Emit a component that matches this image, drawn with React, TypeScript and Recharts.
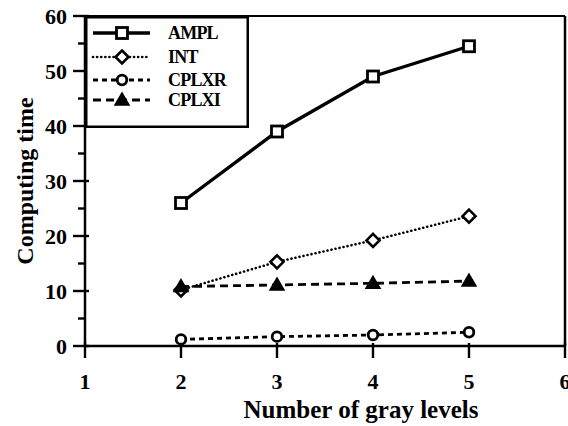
import React from 'react';
import { LineChart, Line, XAxis, YAxis, ReferenceLine, Legend } from 'recharts';

const categories = [2, 3, 4, 5];
const amplValues = [26, 39, 49, 54.5];
const intValues = [10.2, 15.3, 19.2, 23.6];
const cplxrValues = [1.2, 1.7, 2.0, 2.5];
const cplxiValues = [10.8, 11.1, 11.4, 11.8];
const xTicks = [1, 2, 3, 4, 5, 6];
const yTicks = [0, 5, 10, 15, 20, 25, 30, 35, 40, 45, 50, 55, 60];

const data = categories.map((c, i) => ({
  x: c,
  AMPL: amplValues[i],
  INT: intValues[i],
  CPLXR: cplxrValues[i],
  CPLXI: cplxiValues[i],
}));

const FONT = '"Liberation Serif", "Times New Roman", serif';

const SquareDot = (props: any) => {
  const { cx, cy } = props;
  if (cx == null || cy == null) return null;
  return <rect x={cx - 5.5} y={cy - 5.5} width={11} height={11} fill="#fff" stroke="#000" strokeWidth={2.8} />;
};
const DiamondDot = (props: any) => {
  const { cx, cy } = props;
  if (cx == null || cy == null) return null;
  return <path d={`M${cx},${cy - 6.5} L${cx + 6.5},${cy} L${cx},${cy + 6.5} L${cx - 6.5},${cy} Z`} fill="#fff" stroke="#000" strokeWidth={2.6} />;
};
const CircleDot = (props: any) => {
  const { cx, cy } = props;
  if (cx == null || cy == null) return null;
  return <circle cx={cx} cy={cy} r={4.8} fill="#fff" stroke="#000" strokeWidth={2.8} />;
};
const TriangleDot = (props: any) => {
  const { cx, cy } = props;
  if (cx == null || cy == null) return null;
  return <path d={`M${cx},${cy - 7} L${cx + 7},${cy + 5} L${cx - 7},${cy + 5} Z`} fill="#000" stroke="#000" strokeWidth={1.5} />;
};

const series = [
  { key: 'AMPL', dash: undefined as string | undefined, width: 3.4, Dot: SquareDot, cap: 'butt' },
  { key: 'INT', dash: '0.1 4', width: 2.6, Dot: DiamondDot, cap: 'round' },
  { key: 'CPLXR', dash: '5 4', width: 2.8, Dot: CircleDot, cap: 'butt' },
  { key: 'CPLXI', dash: '8 5', width: 2.8, Dot: TriangleDot, cap: 'butt' },
];

const YTick = (props: any) => {
  const { x, y, payload } = props;
  const major = payload.value % 10 === 0;
  return (
    <g>
      {major ? (
        <line x1={x - 12} x2={x + 4} y1={y} y2={y} stroke="#000" strokeWidth={2.4} />
      ) : (
        <line x1={x - 7} x2={x} y1={y} y2={y} stroke="#000" strokeWidth={2.4} />
      )}
      {major && (
        <text x={x - 18} y={y} textAnchor="end" dominantBaseline="central" fontFamily={FONT} fontSize={22} fontWeight="bold" fill="#000">
          {payload.value}
        </text>
      )}
    </g>
  );
};

const XTick = (props: any) => {
  const { x, y, payload } = props;
  return (
    <g>
      <line x1={x} x2={x} y1={y - 3} y2={y + 12} stroke="#000" strokeWidth={2.4} />
      <text x={x} y={y + 43} textAnchor="middle" fontFamily={FONT} fontSize={22} fontWeight="bold" fill="#000">
        {payload.value}
      </text>
    </g>
  );
};

const LegendContent = () => {
  const rows = [
    { s: series[0], y: 17 },
    { s: series[1], y: 41 },
    { s: series[2], y: 64 },
    { s: series[3], y: 84 },
  ];
  return (
    <svg width={164} height={112} style={{ display: 'block' }}>
      <rect x={1.25} y={1.25} width={161.5} height={109.5} fill="#fff" stroke="#000" strokeWidth={2.5} />
      {rows.map(({ s, y }) => {
        const D = s.Dot;
        return (
          <g key={s.key}>
            <line x1={8} x2={65} y1={y} y2={y} stroke="#000" strokeWidth={s.width} strokeDasharray={s.dash} strokeLinecap={s.cap as any} />
            <D cx={37} cy={y} />
            <text x={83} y={y} dominantBaseline="central" fontFamily={FONT} fontSize={18} fontWeight="bold" letterSpacing={-0.8} fill="#000">
              {s.key}
            </text>
          </g>
        );
      })}
    </svg>
  );
};

export default function App() {
  return (
    <div style={{ position: 'absolute', left: 0, top: 0, background: '#fff' }}>
      <LineChart width={568} height={426} data={data} margin={{ top: 16, right: 3, left: 0, bottom: 0 }}>
        <XAxis
          dataKey="x"
          type="number"
          domain={[1, 6]}
          ticks={xTicks}
          allowDataOverflow
          height={80}
          tickSize={0}
          tickMargin={0}
          tickLine={false}
          axisLine={{ stroke: '#000', strokeWidth: 2.5 }}
          tick={<XTick />}
          interval={0}
          label={{ value: 'Number of gray levels', position: 'insideBottom', offset: 8, style: { fontFamily: FONT, fontSize: 25, fontWeight: 'bold', fill: '#000' }, dx: 36 }}
        />
        <YAxis
          type="number"
          domain={[0, 60]}
          ticks={yTicks}
          width={85}
          tickSize={0}
          tickMargin={0}
          tickLine={false}
          axisLine={{ stroke: '#000', strokeWidth: 2.5 }}
          tick={<YTick />}
          interval={0}
          label={{ value: 'Computing time', angle: -90, position: 'insideLeft', offset: 24, style: { fontFamily: FONT, fontSize: 24, fontWeight: 'bold', fill: '#000', textAnchor: 'middle' } }}
        />
        <ReferenceLine y={60} stroke="#000" strokeWidth={2} ifOverflow="extendDomain" />
        <ReferenceLine x={6} stroke="#000" strokeWidth={2.5} ifOverflow="extendDomain" />
        <Legend
          layout="horizontal"
          verticalAlign="middle"
          align="center"
          wrapperStyle={{ position: 'absolute', left: 85, top: 16, width: 164, height: 112 }}
          content={<LegendContent />}
        />
        {series.map((s) => (
          <Line
            key={s.key}
            dataKey={s.key}
            stroke="#000"
            strokeWidth={s.width}
            strokeDasharray={s.dash}
            strokeLinecap={s.cap as any}
            dot={<s.Dot />}
            activeDot={false}
            isAnimationActive={false}
            legendType="none"
          />
        ))}
      </LineChart>
    </div>
  );
}
